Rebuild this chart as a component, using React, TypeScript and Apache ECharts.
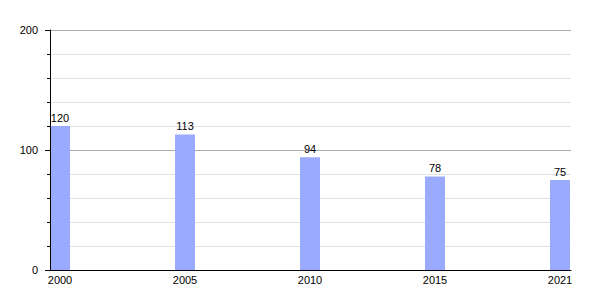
import React, { useEffect, useRef } from "react";
import * as echarts from "echarts";

const years = ["2000", "2005", "2010", "2015", "2021"];
const values = [120, 113, 94, 78, 75];
const yTicks = [0, 100, 200];

export default function App() {
  const ref = useRef<HTMLDivElement>(null);
  useEffect(() => {
    if (!ref.current) return;
    const chart = echarts.init(ref.current, undefined, { renderer: "svg" });
    const font = "'Liberation Sans', Arial, sans-serif";
    const yMin = yTicks[0];
    const yMax = yTicks[yTicks.length - 1];
    chart.setOption({
      animation: false,
      grid: { left: 42, right: 21, top: 22, bottom: 22, containLabel: false },
      xAxis: {
        type: "value",
        min: -0.08,
        max: 4.088,
        z: 10,
        axisLine: { show: true, onZero: false, lineStyle: { color: "#000", width: 1 } },
        axisTick: { show: false },
        splitLine: { show: false },
        axisLabel: {
          customValues: years.map((_, i) => i),
          formatter: (v: number) => years[Math.round(v)] ?? "",
          color: "#000",
          fontSize: 11,
          fontFamily: font,
          margin: 4,
        },
      },
      yAxis: [
        {
          type: "value",
          position: "left",
          min: yMin,
          max: yMax,
          interval: 100,
          axisLine: { show: false },
          axisTick: { show: false },
          axisLabel: { show: false },
          minorTick: { show: false, splitNumber: 5 },
          splitLine: { show: true, lineStyle: { color: "#aaaaaa", width: 1 } },
          minorSplitLine: { show: true, lineStyle: { color: "#e2e2e2", width: 1 } },
        },
        {
          type: "value",
          position: "left",
          offset: 0,
          min: yMin,
          max: yMax,
          interval: 100,
          z: 10,
          axisLine: { show: true, onZero: false, lineStyle: { color: "#000", width: 1 } },
          axisTick: { show: true, length: 5, lineStyle: { color: "#000" } },
          minorTick: { show: true, splitNumber: 5, length: 3, lineStyle: { color: "#000" } },
          splitLine: { show: false },
          minorSplitLine: { show: false },
          axisLabel: { color: "#000", fontSize: 11, fontFamily: font, margin: 12 },
        },
      ],
      series: [
        {
          type: "bar",
          yAxisIndex: 0,
          data: values.map((v, i) => [i, v]),
          barWidth: 20,
          itemStyle: { color: "#99aaff" },
          label: {
            show: true,
            position: "top",
            distance: 3,
            color: "#000",
            fontSize: 11,
            fontFamily: font,
          },
        },
      ],
    });
    return () => chart.dispose();
  }, []);
  return <div ref={ref} style={{ width: 584, height: 284 }} />;
}
